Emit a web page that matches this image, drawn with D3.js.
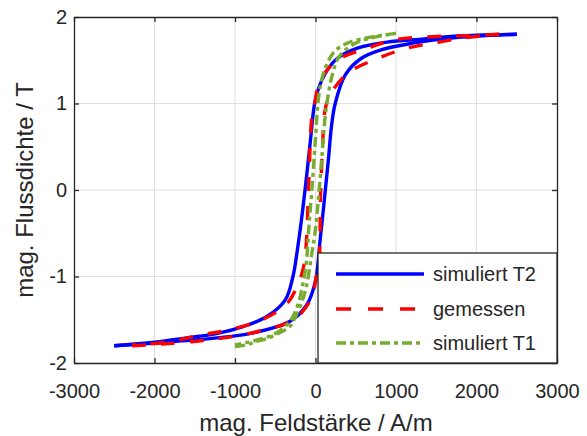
<!DOCTYPE html>
<html>
<head>
<meta charset="utf-8">
<script src="https://cdn.jsdelivr.net/npm/d3@7"></script>
<style>
  body { margin: 0; background: #fff; }
  text { font-family: "Liberation Sans", Arial, Helvetica, sans-serif; fill: #262626; }
</style>
</head>
<body>
<div id="holder"></div>
<script>
// H in A/m, B in T; each loop = descending branch + ascending branch
const blueDown = [[2500, 1.80], [2000, 1.79], [1600, 1.77], [1350, 1.745], [890, 1.71], [520, 1.64],
  [270, 1.52], [110, 1.33], [0, 1.05], [-60, 0.6], [-100, 0.25], [-130, 0], [-175, -0.35],
  [-225, -0.69], [-280, -1.0], [-375, -1.27], [-600, -1.46], [-900, -1.58], [-1230, -1.66],
  [-1600, -1.71], [-2000, -1.76], [-2500, -1.80]];
const blueUp = [[-2500, -1.80], [-2000, -1.77], [-1600, -1.74], [-1230, -1.71], [-820, -1.66],
  [-322, -1.52], [-110, -1.33], [0, -1.05], [55, -0.6], [95, -0.25], [122, 0], [160, 0.35],
  [200, 0.75], [245, 1.0], [370, 1.33], [566, 1.52], [814, 1.62], [1227, 1.70], [1600, 1.75],
  [2000, 1.78], [2500, 1.80]];

const redDown = [[2280, 1.80], [1900, 1.785], [1500, 1.775], [1000, 1.74], [650, 1.64], [270, 1.50],
  [50, 1.25], [-10, 1.0], [-37, 0.92], [-87, 0], [-110, -0.55], [-140, -0.85], [-200, -1.05],
  [-360, -1.32], [-690, -1.51], [-1090, -1.62], [-1450, -1.68], [-1850, -1.76], [-2280, -1.79]];
const redUp = [[-2280, -1.80], [-1900, -1.78], [-1400, -1.74], [-1000, -1.69], [-650, -1.62],
  [-270, -1.50], [-50, -1.25], [10, -1.0], [37, -0.92], [65, 0], [90, 0.55], [115, 0.9],
  [170, 1.08], [400, 1.35], [770, 1.52], [1140, 1.64], [1535, 1.71], [1900, 1.765], [2280, 1.80]];

const greenDown = [[1000, 1.81], [800, 1.785], [645, 1.76], [400, 1.70], [235, 1.60], [130, 1.43],
  [70, 1.25], [30, 1.0], [0, 0.6], [-45, 0], [-80, -0.4], [-115, -0.85], [-160, -1.1],
  [-220, -1.33], [-320, -1.52], [-500, -1.66], [-750, -1.74], [-1000, -1.79]];
const greenUp = [[-1000, -1.81], [-860, -1.79], [-730, -1.75], [-610, -1.72], [-445, -1.65],
  [-320, -1.58], [-250, -1.47], [-160, -1.27], [-110, -1.1], [-40, -0.7], [0, -0.45], [45, 0],
  [85, 0.45], [120, 0.85], [150, 1.05], [200, 1.3], [300, 1.55], [500, 1.70], [750, 1.77],
  [1000, 1.81]];

const xTicks = [-3000, -2000, -1000, 0, 1000, 2000, 3000];
const yTicks = [-2, -1, 0, 1, 2];
const seriesNames = ["simuliert T2", "gemessen", "simuliert T1"];

const width = 587, height = 436;
const mLeft = 74, mTop = 17, mRight = 557, mBottom = 363;

const xScale = d3.scaleLinear().domain([-3000, 3000]).range([mLeft, mRight]);
const yScale = d3.scaleLinear().domain([-2, 2]).range([mBottom, mTop]);

const svg = d3.select("#holder").append("svg")
  .attr("width", width).attr("height", height);

svg.append("defs").append("clipPath").attr("id", "clip")
  .append("rect").attr("x", mLeft).attr("y", mTop)
  .attr("width", mRight - mLeft).attr("height", mBottom - mTop);

// grid
svg.append("g").selectAll("line").data(xTicks.slice(1, -1)).enter().append("line")
  .attr("x1", d => xScale(d)).attr("x2", d => xScale(d))
  .attr("y1", mTop).attr("y2", mBottom)
  .attr("stroke", "#dfdfdf").attr("stroke-width", 1);
svg.append("g").selectAll("line").data(yTicks.slice(1, -1)).enter().append("line")
  .attr("y1", d => yScale(d)).attr("y2", d => yScale(d))
  .attr("x1", mLeft).attr("x2", mRight)
  .attr("stroke", "#dfdfdf").attr("stroke-width", 1);

// curves
const line = d3.line()
  .x(d => xScale(d[0]))
  .y(d => yScale(d[1]))
  .curve(d3.curveCatmullRom.alpha(0.5));

const series = [
  { name: seriesNames[0], pts: [blueDown, blueUp], color: "#0000ff", dash: null, legDash: null },
  { name: seriesNames[1], pts: [redDown, redUp], color: "#ff0000", dash: "14,15", legDash: "15,17" },
  { name: seriesNames[2], pts: [greenDown, greenUp], color: "#77ac30", dash: "10,4,4,4", legDash: "10,4,4,4" }
];

const curves = svg.append("g").attr("clip-path", "url(#clip)");
series.forEach(s => {
  s.pts.forEach(branch => {
    curves.append("path")
      .attr("d", line(branch))
      .attr("fill", "none")
      .attr("stroke", s.color)
      .attr("stroke-width", 3.4)
      .attr("stroke-dasharray", s.dash);
  });
});

// axes (box with ticks inside)
const fmt = d => String(d);
const xAxisB = d3.axisBottom(xScale).tickValues(xTicks).tickSizeInner(-5).tickSizeOuter(0).tickPadding(21).tickFormat(fmt);
const xAxisT = d3.axisTop(xScale).tickValues(xTicks).tickSizeInner(-5).tickSizeOuter(0).tickFormat("");
const yAxisL = d3.axisLeft(yScale).tickValues(yTicks).tickSizeInner(-5).tickSizeOuter(0).tickPadding(7).tickFormat(fmt);
const yAxisR = d3.axisRight(yScale).tickValues(yTicks).tickSizeInner(-5).tickSizeOuter(0).tickFormat("");

[
  [xAxisB, `translate(0,${mBottom})`],
  [xAxisT, `translate(0,${mTop})`],
  [yAxisL, `translate(${mLeft},0)`],
  [yAxisR, `translate(${mRight},0)`]
].forEach(([ax, tr]) => {
  const g = svg.append("g").attr("transform", tr).call(ax);
  g.select(".domain").attr("stroke", "#262626").attr("stroke-width", 1.3);
  g.selectAll(".tick line").attr("stroke", "#262626").attr("stroke-width", 1.3);
  g.selectAll(".tick text").style("font-size", "20px").attr("fill", "#262626")
    .style("font-family", '"Liberation Sans", Arial, sans-serif');
});

// axis titles
svg.append("text")
  .attr("x", 316).attr("y", 431)
  .attr("text-anchor", "middle")
  .style("font-size", "24px")
  .text("mag. Feldstärke / A/m");

svg.append("text")
  .attr("transform", `translate(33, ${(mTop + mBottom) / 2}) rotate(-90)`)
  .attr("text-anchor", "middle")
  .style("font-size", "24px")
  .text("mag. Flussdichte / T");

// legend
const lg = svg.append("g");
lg.append("rect")
  .attr("x", 318).attr("y", 253).attr("width", mRight - 318).attr("height", mBottom - 253)
  .attr("fill", "#fff").attr("stroke", "#262626").attr("stroke-width", 1.3);
const rowY = [274, 309, 343];
series.forEach((s, i) => {
  lg.append("line")
    .attr("x1", 336).attr("x2", 424)
    .attr("y1", rowY[i]).attr("y2", rowY[i])
    .attr("stroke", s.color).attr("stroke-width", 3.4)
    .attr("stroke-dasharray", s.legDash);
  lg.append("text")
    .attr("x", 433).attr("y", rowY[i])
    .attr("dy", "0.35em")
    .style("font-size", "20px")
    .text(s.name);
});
</script>
</body>
</html>
